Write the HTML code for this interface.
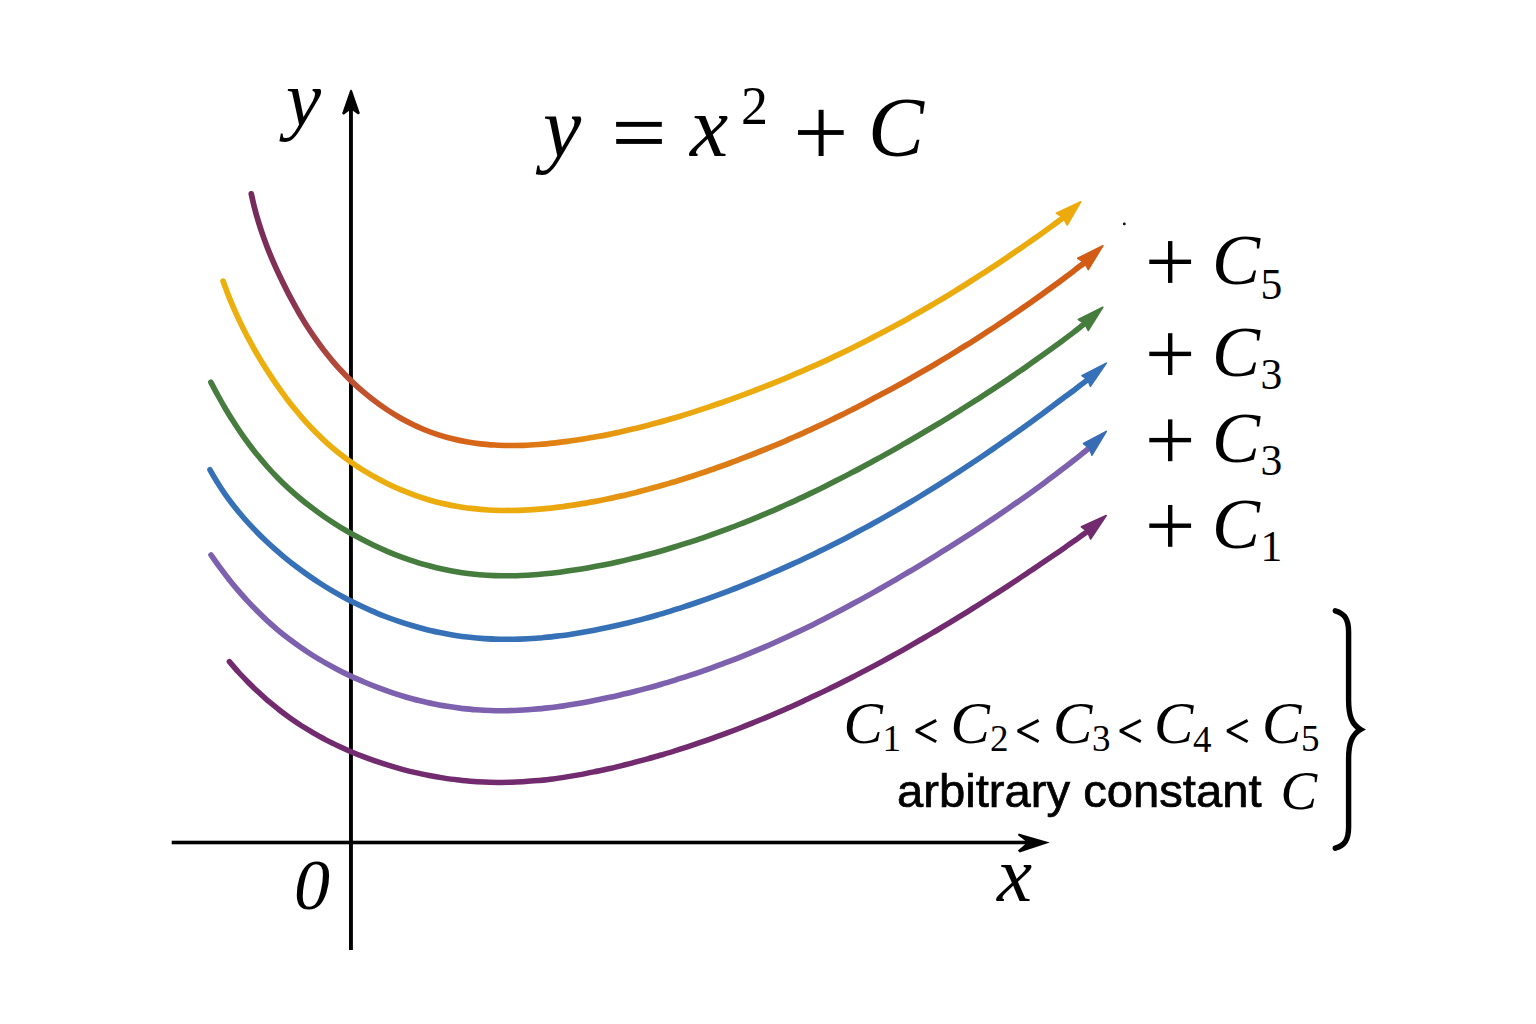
<!DOCTYPE html>
<html>
<head>
<meta charset="utf-8">
<title>y = x^2 + C</title>
<style>
html,body{margin:0;padding:0;background:#fff;}
body{width:1536px;height:1024px;overflow:hidden;font-family:"Liberation Sans",sans-serif;}
svg{display:block;position:absolute;left:0;top:0;}
.sa{font-family:"Liberation Sans",sans-serif;fill:#000;}
.mi{font-family:"Liberation Serif",serif;font-style:italic;fill:#000;}
.mn{font-family:"Liberation Serif",serif;fill:#000;}
</style>
</head>
<body>
<svg width="1536" height="1024" viewBox="0 0 1536 1024">
<desc>Graph of the family y = x² + C: six coloured parabolic curves with arrowheads labelled + C5, + C3, + C3, + C1; axes x and y with origin 0; note C1 &lt; C2 &lt; C3 &lt; C4 &lt; C5, arbitrary constant C.</desc>
<defs>
<linearGradient id="g5" gradientUnits="userSpaceOnUse" x1="251" y1="0" x2="1081" y2="0">
<stop offset="0" stop-color="#742a5c"/>
<stop offset="0.05" stop-color="#893452"/>
<stop offset="0.09" stop-color="#ab463e"/>
<stop offset="0.13" stop-color="#c0522e"/>
<stop offset="0.20" stop-color="#cf5c1e"/>
<stop offset="0.30" stop-color="#d96a16"/>
<stop offset="0.38" stop-color="#e28612"/>
<stop offset="0.46" stop-color="#e89e10"/>
<stop offset="0.55" stop-color="#ebaa0e"/>
<stop offset="1" stop-color="#ecab0c"/>
</linearGradient>
<linearGradient id="g4" gradientUnits="userSpaceOnUse" x1="223" y1="0" x2="1104" y2="0">
<stop offset="0" stop-color="#ecb00e"/>
<stop offset="0.36" stop-color="#ebaa0e"/>
<stop offset="0.45" stop-color="#e59412"/>
<stop offset="0.58" stop-color="#dc7a16"/>
<stop offset="0.75" stop-color="#d46418"/>
<stop offset="1" stop-color="#d25c16"/>
</linearGradient>
</defs>
<rect width="1536" height="1024" fill="#fff"/>

<!-- axes -->
<g id="axes" fill="#000" stroke="none">
<rect x="349" y="108" width="3.9" height="842"/>
<path d="M351.05 89.8 C351.6 89.8 352 90.4 352.2 91 L359.9 113.3 L358.2 114.5 L352.9 110.7 L349.1 110.7 L343.7 114.7 L342.1 113.5 L349.9 91 C350.1 90.4 350.5 89.8 351.05 89.8 Z"/>
<rect x="171.7" y="840.7" width="854" height="3.6"/>
<path d="M1049.8 842.4 L1019.6 852.5 L1017.9 850.5 L1024.9 844.6 L1024.9 840.5 L1018 835.3 L1018.6 833.6 Z"/>
</g>

<!-- curves -->
<g id="curves">
<path d="M229.4 661.6 C230.9 663.3 235.3 668.6 238.4 672.0 C241.5 675.4 244.7 678.7 247.9 682.0 C251.1 685.2 254.4 688.4 257.8 691.6 C261.1 694.7 264.5 697.8 268.0 700.8 C271.5 703.7 275.1 706.7 278.7 709.5 C282.3 712.3 286.0 715.1 289.7 717.7 C293.5 720.4 297.3 723.0 301.1 725.5 C305.0 727.9 308.9 730.3 312.9 732.7 C316.8 735.0 320.9 737.2 324.9 739.4 C329.0 741.5 333.1 743.6 337.3 745.5 C341.5 747.5 345.7 749.4 349.9 751.2 C354.1 753.0 358.4 754.8 362.7 756.4 C367.0 758.1 371.4 759.7 375.7 761.2 C380.1 762.7 384.5 764.1 388.9 765.4 C393.4 766.8 397.8 768.1 402.3 769.3 C406.7 770.5 411.2 771.6 415.7 772.6 C420.2 773.7 424.7 774.6 429.2 775.5 C433.8 776.4 438.3 777.2 442.8 777.9 C447.4 778.6 452.0 779.3 456.5 779.8 C461.1 780.4 465.7 780.8 470.3 781.2 C474.9 781.6 479.4 781.9 484.0 782.1 C488.6 782.3 493.2 782.4 497.8 782.5 C502.4 782.5 507.0 782.4 511.6 782.3 C516.2 782.1 520.8 781.9 525.4 781.6 C530.0 781.3 534.5 780.9 539.1 780.5 C543.7 780.0 548.3 779.5 552.9 778.9 C557.4 778.3 562.0 777.6 566.6 776.9 C571.1 776.2 575.7 775.4 580.2 774.6 C584.8 773.7 589.3 772.9 593.8 771.9 C598.4 771.0 602.9 770.0 607.4 769.0 C611.9 768.0 616.4 766.9 620.9 765.8 C625.4 764.7 629.9 763.6 634.3 762.4 C638.8 761.2 643.3 760.0 647.7 758.8 C652.2 757.6 656.6 756.3 661.0 755.0 C665.4 753.7 669.9 752.4 674.3 751.0 C678.7 749.6 683.0 748.2 687.4 746.8 C691.8 745.4 696.2 743.9 700.5 742.4 C704.9 740.9 709.2 739.4 713.6 737.8 C717.9 736.3 722.2 734.7 726.5 733.1 C730.9 731.5 735.2 729.9 739.5 728.2 C743.8 726.5 748.0 724.8 752.3 723.1 C756.6 721.4 760.8 719.6 765.1 717.9 C769.3 716.1 773.6 714.3 777.8 712.5 C782.0 710.6 786.2 708.8 790.5 706.9 C794.7 705.0 798.9 703.1 803.0 701.2 C807.2 699.3 811.4 697.3 815.6 695.3 C819.7 693.4 823.9 691.4 828.0 689.4 C832.2 687.3 836.3 685.3 840.4 683.2 C844.5 681.2 848.7 679.1 852.8 677.0 C856.9 674.9 861.0 672.7 865.0 670.6 C869.1 668.4 873.2 666.3 877.3 664.1 C881.3 661.9 885.4 659.7 889.4 657.5 C893.4 655.3 897.5 653.0 901.5 650.8 C905.5 648.5 909.5 646.2 913.5 643.9 C917.5 641.6 921.5 639.3 925.5 637.0 C929.5 634.7 933.4 632.3 937.4 630.0 C941.4 627.6 945.3 625.3 949.3 622.9 C953.2 620.5 957.1 618.1 961.1 615.7 C965.0 613.3 968.9 610.8 972.8 608.4 C976.7 605.9 980.6 603.5 984.5 601.0 C988.4 598.5 992.2 596.1 996.1 593.6 C1000.0 591.1 1003.9 588.6 1007.7 586.1 C1011.6 583.5 1015.4 581.0 1019.2 578.5 C1023.1 575.9 1026.9 573.4 1030.7 570.8 C1034.6 568.2 1038.4 565.7 1042.2 563.1 C1046.0 560.5 1049.8 557.9 1053.6 555.3 C1057.4 552.7 1061.2 550.1 1065.0 547.5 C1068.7 544.8 1072.5 542.2 1076.3 539.6 C1080.0 536.9 1085.6 532.9 1087.5 531.6" fill="none" stroke="#722b6e" stroke-width="5.5" stroke-linecap="round" stroke-linejoin="round"/>
<path d="M1106.2 515.6 L1081.4 526.8 L1087.5 531.6 L1090.6 539.0 Z" fill="#722b6e" stroke="#722b6e" stroke-width="1.6" stroke-linejoin="round"/>
<path d="M211.0 555.0 C212.4 557.0 216.5 562.9 219.3 566.7 C222.2 570.6 225.1 574.4 228.1 578.2 C231.0 582.0 234.1 585.7 237.2 589.4 C240.3 593.0 243.5 596.6 246.7 600.2 C250.0 603.7 253.3 607.2 256.7 610.6 C260.1 614.0 263.6 617.4 267.1 620.6 C270.7 623.9 274.3 627.0 277.9 630.1 C281.6 633.2 285.4 636.2 289.2 639.1 C293.0 642.0 296.9 644.8 300.9 647.5 C304.8 650.3 308.8 652.9 312.9 655.5 C317.0 658.0 321.1 660.5 325.3 662.9 C329.4 665.2 333.7 667.5 337.9 669.7 C342.2 672.0 346.5 674.1 350.9 676.1 C355.3 678.2 359.7 680.1 364.1 682.0 C368.5 683.9 373.0 685.7 377.5 687.4 C382.0 689.1 386.6 690.8 391.2 692.3 C395.7 693.8 400.3 695.3 405.0 696.7 C409.6 698.0 414.2 699.3 418.9 700.5 C423.6 701.6 428.3 702.7 433.0 703.7 C437.7 704.7 442.4 705.5 447.2 706.3 C451.9 707.1 456.7 707.8 461.4 708.4 C466.2 708.9 471.0 709.4 475.8 709.8 C480.6 710.1 485.4 710.4 490.2 710.5 C495.0 710.7 499.8 710.7 504.6 710.7 C509.4 710.6 514.2 710.5 519.0 710.3 C523.8 710.0 528.6 709.7 533.4 709.3 C538.2 708.9 543.0 708.5 547.8 707.9 C552.6 707.4 557.4 706.7 562.2 706.1 C567.0 705.4 571.8 704.6 576.5 703.8 C581.3 703.0 586.1 702.1 590.8 701.2 C595.6 700.3 600.4 699.4 605.1 698.3 C609.8 697.3 614.6 696.3 619.3 695.2 C624.0 694.1 628.7 693.0 633.4 691.8 C638.0 690.6 642.7 689.4 647.4 688.1 C652.0 686.9 656.7 685.6 661.3 684.2 C666.0 682.9 670.6 681.5 675.2 680.1 C679.8 678.7 684.4 677.2 689.0 675.7 C693.6 674.2 698.1 672.7 702.7 671.1 C707.2 669.5 711.8 667.9 716.3 666.2 C720.8 664.6 725.3 662.9 729.8 661.2 C734.3 659.4 738.8 657.7 743.3 655.9 C747.7 654.1 752.2 652.3 756.6 650.4 C761.1 648.5 765.5 646.6 769.9 644.7 C774.3 642.7 778.7 640.8 783.1 638.8 C787.5 636.7 791.8 634.7 796.2 632.6 C800.5 630.6 804.9 628.5 809.2 626.4 C813.5 624.2 817.9 622.1 822.2 619.9 C826.5 617.7 830.8 615.5 835.0 613.3 C839.3 611.1 843.6 608.8 847.8 606.5 C852.1 604.2 856.3 601.9 860.6 599.6 C864.8 597.3 869.0 594.9 873.2 592.6 C877.4 590.2 881.6 587.8 885.8 585.4 C890.0 583.0 894.2 580.6 898.3 578.1 C902.5 575.7 906.6 573.2 910.8 570.8 C914.9 568.3 919.1 565.8 923.2 563.3 C927.3 560.8 931.4 558.3 935.5 555.8 C939.6 553.2 943.7 550.7 947.8 548.1 C951.9 545.6 956.0 543.0 960.0 540.4 C964.1 537.8 968.2 535.2 972.2 532.6 C976.2 530.0 980.3 527.3 984.3 524.7 C988.3 522.0 992.3 519.3 996.3 516.6 C1000.3 513.9 1004.3 511.2 1008.2 508.5 C1012.2 505.8 1016.1 503.0 1020.1 500.2 C1024.0 497.5 1027.9 494.7 1031.8 491.9 C1035.7 489.1 1039.6 486.2 1043.5 483.4 C1047.4 480.5 1051.2 477.6 1055.1 474.7 C1058.9 471.8 1062.8 468.9 1066.6 466.0 C1070.4 463.0 1074.2 460.1 1078.0 457.1 C1081.7 454.1 1087.3 449.5 1089.2 448.0" fill="none" stroke="#7d61ae" stroke-width="5.6" stroke-linecap="round" stroke-linejoin="round"/>
<path d="M1106.3 431.4 L1083.5 443.5 L1089.2 448.0 L1092.0 455.2 Z" fill="#386db6" stroke="#386db6" stroke-width="1.6" stroke-linejoin="round"/>
<path d="M210.0 469.8 C211.2 471.9 214.8 478.3 217.4 482.4 C219.9 486.6 222.6 490.6 225.4 494.6 C228.2 498.6 231.1 502.4 234.1 506.3 C237.1 510.1 240.2 513.8 243.4 517.5 C246.5 521.1 249.8 524.7 253.1 528.2 C256.5 531.7 259.9 535.2 263.4 538.5 C266.9 541.9 270.4 545.2 274.1 548.4 C277.7 551.6 281.4 554.8 285.1 557.8 C288.9 560.9 292.7 563.9 296.5 566.8 C300.4 569.8 304.3 572.6 308.3 575.4 C312.3 578.2 316.3 580.9 320.4 583.5 C324.4 586.1 328.6 588.7 332.8 591.1 C337.0 593.6 341.2 595.9 345.5 598.2 C349.8 600.5 354.1 602.7 358.5 604.8 C362.8 606.9 367.3 609.0 371.7 610.9 C376.2 612.9 380.7 614.7 385.2 616.5 C389.7 618.2 394.3 619.9 398.9 621.4 C403.5 623.0 408.2 624.5 412.8 625.8 C417.5 627.2 422.2 628.5 426.9 629.7 C431.6 630.8 436.3 631.9 441.1 632.8 C445.8 633.8 450.6 634.7 455.4 635.4 C460.2 636.2 465.0 636.8 469.8 637.3 C474.6 637.9 479.4 638.3 484.3 638.6 C489.1 638.9 493.9 639.1 498.8 639.2 C503.6 639.3 508.5 639.3 513.3 639.2 C518.1 639.2 523.0 639.0 527.8 638.7 C532.7 638.4 537.5 638.1 542.4 637.7 C547.2 637.2 552.1 636.7 556.9 636.1 C561.7 635.6 566.6 634.9 571.4 634.2 C576.2 633.5 581.0 632.7 585.8 631.8 C590.6 631.0 595.4 630.1 600.1 629.1 C604.9 628.2 609.7 627.2 614.4 626.1 C619.2 625.0 623.9 623.9 628.6 622.8 C633.3 621.6 638.0 620.4 642.7 619.1 C647.4 617.9 652.0 616.6 656.7 615.2 C661.4 613.9 666.0 612.5 670.6 611.1 C675.3 609.7 679.9 608.2 684.5 606.7 C689.1 605.2 693.7 603.6 698.3 602.0 C702.9 600.4 707.4 598.8 712.0 597.1 C716.5 595.5 721.1 593.8 725.6 592.1 C730.2 590.3 734.7 588.6 739.2 586.8 C743.7 585.0 748.2 583.2 752.7 581.3 C757.2 579.5 761.7 577.6 766.1 575.7 C770.6 573.8 775.0 571.8 779.5 569.9 C783.9 567.9 788.4 565.9 792.8 563.9 C797.2 561.9 801.6 559.8 806.0 557.7 C810.4 555.7 814.8 553.6 819.1 551.4 C823.5 549.3 827.9 547.2 832.2 545.0 C836.5 542.8 840.9 540.6 845.2 538.4 C849.5 536.1 853.8 533.9 858.1 531.6 C862.4 529.3 866.6 527.0 870.9 524.7 C875.2 522.3 879.4 520.0 883.6 517.6 C887.9 515.2 892.1 512.8 896.3 510.4 C900.5 508.0 904.7 505.5 908.8 503.0 C913.0 500.6 917.2 498.1 921.3 495.5 C925.4 493.0 929.6 490.5 933.7 487.9 C937.8 485.4 941.9 482.8 945.9 480.2 C950.0 477.6 954.1 475.0 958.1 472.3 C962.2 469.7 966.2 467.0 970.2 464.3 C974.3 461.7 978.3 459.0 982.3 456.3 C986.3 453.5 990.3 450.8 994.2 448.1 C998.2 445.3 1002.2 442.6 1006.1 439.8 C1010.1 437.0 1014.0 434.2 1017.9 431.4 C1021.9 428.6 1025.8 425.8 1029.7 422.9 C1033.6 420.1 1037.5 417.3 1041.4 414.4 C1045.3 411.6 1049.2 408.7 1053.0 405.8 C1056.9 402.9 1060.8 400.0 1064.6 397.1 C1068.5 394.2 1072.4 391.3 1076.2 388.4 C1080.0 385.5 1085.8 381.1 1087.7 379.6" fill="none" stroke="#3671b8" stroke-width="5.6" stroke-linecap="round" stroke-linejoin="round"/>
<path d="M1106.3 363.1 L1081.9 375.6 L1087.7 379.6 L1090.4 386.3 Z" fill="#3671b8" stroke="#3671b8" stroke-width="1.6" stroke-linejoin="round"/>
<path d="M210.9 382.2 C212.0 384.3 215.3 390.7 217.7 395.0 C220.0 399.2 222.4 403.5 224.9 407.7 C227.4 411.9 229.9 416.1 232.6 420.3 C235.2 424.4 237.9 428.6 240.7 432.6 C243.5 436.7 246.4 440.7 249.4 444.7 C252.3 448.6 255.3 452.5 258.5 456.3 C261.6 460.2 264.8 463.9 268.0 467.5 C271.3 471.2 274.7 474.8 278.1 478.2 C281.5 481.7 285.0 485.1 288.6 488.4 C292.2 491.7 295.9 494.9 299.6 498.0 C303.3 501.1 307.1 504.2 311.0 507.1 C314.9 510.1 318.8 512.9 322.8 515.7 C326.8 518.5 330.9 521.2 335.0 523.8 C339.1 526.5 343.3 529.0 347.6 531.5 C351.8 533.9 356.1 536.3 360.5 538.6 C364.8 540.9 369.2 543.1 373.7 545.3 C378.2 547.4 382.7 549.4 387.2 551.3 C391.8 553.3 396.3 555.1 401.0 556.8 C405.6 558.5 410.3 560.1 414.9 561.6 C419.6 563.2 424.3 564.5 429.1 565.8 C433.8 567.1 438.6 568.3 443.4 569.3 C448.2 570.3 453.0 571.2 457.8 572.0 C462.6 572.8 467.4 573.4 472.3 574.0 C477.1 574.5 481.9 574.9 486.8 575.2 C491.6 575.5 496.5 575.7 501.4 575.7 C506.2 575.8 511.1 575.8 516.0 575.7 C520.8 575.5 525.7 575.3 530.6 575.0 C535.4 574.7 540.3 574.3 545.2 573.8 C550.0 573.4 554.9 572.8 559.8 572.2 C564.6 571.6 569.5 570.9 574.3 570.1 C579.2 569.4 584.0 568.6 588.8 567.7 C593.6 566.8 598.5 565.9 603.3 565.0 C608.1 564.0 612.8 563.0 617.6 561.9 C622.4 560.9 627.2 559.8 631.9 558.6 C636.7 557.5 641.4 556.3 646.1 555.0 C650.9 553.8 655.6 552.5 660.3 551.2 C665.0 549.8 669.7 548.5 674.3 547.0 C679.0 545.6 683.7 544.2 688.3 542.7 C693.0 541.2 697.6 539.6 702.2 538.1 C706.9 536.5 711.5 534.9 716.1 533.2 C720.7 531.5 725.3 529.8 729.8 528.1 C734.4 526.4 738.9 524.6 743.5 522.8 C748.0 521.0 752.6 519.2 757.1 517.3 C761.6 515.4 766.1 513.5 770.6 511.6 C775.1 509.7 779.5 507.7 784.0 505.7 C788.4 503.7 792.9 501.7 797.3 499.6 C801.8 497.6 806.2 495.5 810.6 493.4 C815.0 491.2 819.4 489.1 823.8 486.9 C828.2 484.8 832.5 482.6 836.9 480.3 C841.3 478.1 845.6 475.9 849.9 473.6 C854.3 471.3 858.6 469.1 862.9 466.7 C867.2 464.4 871.5 462.1 875.8 459.7 C880.1 457.4 884.4 455.0 888.7 452.6 C893.0 450.2 897.2 447.8 901.5 445.3 C905.7 442.9 910.0 440.5 914.2 438.0 C918.4 435.5 922.7 433.0 926.9 430.5 C931.1 428.0 935.3 425.5 939.5 423.0 C943.7 420.4 947.9 417.9 952.0 415.3 C956.2 412.7 960.4 410.2 964.5 407.5 C968.7 404.9 972.8 402.3 976.9 399.7 C981.1 397.0 985.2 394.4 989.3 391.7 C993.4 389.0 997.5 386.3 1001.5 383.6 C1005.6 380.9 1009.7 378.2 1013.7 375.4 C1017.7 372.6 1021.8 369.9 1025.8 367.1 C1029.8 364.3 1033.8 361.5 1037.8 358.6 C1041.8 355.8 1045.7 353.0 1049.7 350.1 C1053.6 347.2 1057.6 344.3 1061.5 341.4 C1065.4 338.5 1069.3 335.6 1073.2 332.6 C1077.1 329.6 1082.8 325.1 1084.8 323.6" fill="none" stroke="#467c3e" stroke-width="5.6" stroke-linecap="round" stroke-linejoin="round"/>
<path d="M1102.8 307.3 L1078.3 319.5 L1084.8 323.6 L1088.2 330.5 Z" fill="#467c3e" stroke="#467c3e" stroke-width="1.6" stroke-linejoin="round"/>
<path d="M223.1 281.1 C224.0 283.4 226.5 290.5 228.3 295.1 C230.1 299.7 232.0 304.3 234.0 308.9 C236.0 313.4 238.1 317.9 240.2 322.4 C242.3 326.8 244.6 331.3 246.9 335.7 C249.2 340.0 251.5 344.4 254.0 348.7 C256.4 353.0 258.9 357.3 261.5 361.5 C264.1 365.7 266.7 369.9 269.5 374.1 C272.2 378.2 274.9 382.3 277.8 386.4 C280.6 390.4 283.5 394.4 286.5 398.4 C289.5 402.3 292.5 406.2 295.7 410.0 C298.8 413.8 302.0 417.6 305.3 421.3 C308.6 424.9 312.0 428.5 315.5 432.0 C319.0 435.5 322.5 439.0 326.2 442.3 C329.9 445.6 333.6 448.8 337.5 452.0 C341.4 455.1 345.3 458.1 349.4 461.0 C353.5 463.9 357.6 466.7 361.8 469.4 C366.1 472.0 370.4 474.6 374.8 477.0 C379.2 479.5 383.6 481.8 388.1 484.0 C392.6 486.2 397.2 488.3 401.8 490.2 C406.5 492.1 411.2 493.9 415.9 495.6 C420.6 497.3 425.3 498.8 430.1 500.2 C434.9 501.5 439.8 502.8 444.6 503.9 C449.4 505.0 454.3 505.9 459.2 506.7 C464.1 507.5 469.0 508.2 473.9 508.7 C478.8 509.3 483.7 509.7 488.6 510.0 C493.6 510.2 498.5 510.4 503.5 510.5 C508.4 510.5 513.4 510.5 518.3 510.3 C523.3 510.2 528.2 509.9 533.2 509.6 C538.2 509.3 543.1 508.8 548.1 508.3 C553.0 507.8 558.0 507.2 562.9 506.6 C567.9 505.9 572.8 505.2 577.7 504.4 C582.7 503.6 587.6 502.8 592.5 501.9 C597.4 501.0 602.3 500.0 607.1 499.0 C612.0 498.0 616.9 497.0 621.7 495.9 C626.6 494.8 631.4 493.6 636.2 492.4 C641.1 491.2 645.9 489.9 650.7 488.6 C655.5 487.3 660.3 486.0 665.1 484.6 C669.8 483.2 674.6 481.8 679.4 480.3 C684.1 478.8 688.9 477.3 693.6 475.8 C698.3 474.2 703.0 472.6 707.7 471.0 C712.4 469.4 717.1 467.7 721.8 466.0 C726.5 464.4 731.1 462.6 735.8 460.9 C740.4 459.1 745.1 457.3 749.7 455.5 C754.3 453.7 758.9 451.9 763.5 450.0 C768.1 448.1 772.7 446.2 777.3 444.3 C781.9 442.4 786.4 440.4 791.0 438.4 C795.5 436.4 800.1 434.4 804.6 432.3 C809.1 430.3 813.6 428.2 818.1 426.1 C822.6 424.0 827.1 421.9 831.6 419.7 C836.1 417.6 840.5 415.4 845.0 413.2 C849.4 411.0 853.9 408.8 858.3 406.5 C862.7 404.2 867.1 402.0 871.5 399.6 C875.9 397.3 880.3 395.0 884.7 392.6 C889.1 390.3 893.5 387.9 897.8 385.5 C902.2 383.1 906.5 380.7 910.8 378.2 C915.2 375.8 919.5 373.3 923.8 370.8 C928.1 368.3 932.4 365.8 936.7 363.2 C941.0 360.7 945.2 358.1 949.5 355.6 C953.7 353.0 958.0 350.4 962.2 347.7 C966.4 345.1 970.7 342.5 974.9 339.8 C979.1 337.1 983.3 334.4 987.4 331.7 C991.6 329.0 995.8 326.3 999.9 323.5 C1004.0 320.7 1008.2 318.0 1012.3 315.2 C1016.4 312.4 1020.5 309.6 1024.6 306.7 C1028.7 303.9 1032.7 301.0 1036.8 298.1 C1040.8 295.3 1044.9 292.4 1048.9 289.4 C1052.9 286.5 1056.9 283.6 1060.9 280.6 C1064.8 277.7 1068.8 274.7 1072.8 271.7 C1076.7 268.7 1082.5 264.1 1084.5 262.6" fill="none" stroke="url(#g4)" stroke-width="5.7" stroke-linecap="round" stroke-linejoin="round"/>
<path d="M1102.8 245.8 L1077.7 258.3 L1084.5 262.6 L1088.3 269.6 Z" fill="#d25c16" stroke="#d25c16" stroke-width="1.6" stroke-linejoin="round"/>
<path d="M251.3 193.8 C251.8 196.1 253.3 203.2 254.5 207.8 C255.7 212.5 257.0 217.1 258.4 221.7 C259.8 226.3 261.3 230.9 262.9 235.4 C264.5 240.0 266.2 244.5 267.9 249.0 C269.7 253.5 271.6 258.0 273.5 262.4 C275.4 266.8 277.4 271.2 279.5 275.6 C281.6 280.0 283.7 284.3 285.9 288.6 C288.0 292.9 290.3 297.2 292.6 301.4 C294.9 305.6 297.2 309.8 299.6 314.0 C302.1 318.1 304.5 322.2 307.1 326.3 C309.7 330.3 312.3 334.3 315.1 338.2 C317.8 342.2 320.6 346.0 323.5 349.8 C326.5 353.6 329.5 357.4 332.6 361.1 C335.7 364.7 338.9 368.3 342.2 371.8 C345.5 375.4 349.0 378.8 352.5 382.1 C356.0 385.5 359.7 388.8 363.4 391.9 C367.1 395.1 370.9 398.1 374.8 401.0 C378.7 404.0 382.7 406.8 386.7 409.5 C390.8 412.2 394.9 414.8 399.1 417.2 C403.3 419.6 407.6 421.9 411.9 424.0 C416.3 426.2 420.7 428.1 425.1 430.0 C429.5 431.8 434.0 433.4 438.6 434.9 C443.1 436.4 447.7 437.7 452.4 438.8 C457.0 440.0 461.7 441.0 466.4 441.8 C471.1 442.6 475.8 443.3 480.6 443.8 C485.3 444.4 490.1 444.7 494.9 445.0 C499.7 445.3 504.5 445.4 509.4 445.5 C514.2 445.5 519.0 445.4 523.9 445.3 C528.7 445.1 533.6 444.8 538.4 444.5 C543.3 444.1 548.1 443.7 553.0 443.1 C557.8 442.6 562.6 442.0 567.4 441.4 C572.2 440.8 577.0 440.0 581.8 439.3 C586.6 438.5 591.4 437.7 596.1 436.8 C600.9 436.0 605.6 435.1 610.3 434.1 C615.0 433.1 619.8 432.1 624.4 431.0 C629.1 430.0 633.8 428.8 638.5 427.7 C643.2 426.5 647.8 425.3 652.5 424.1 C657.1 422.8 661.7 421.6 666.3 420.2 C671.0 418.9 675.6 417.5 680.2 416.2 C684.8 414.8 689.4 413.3 693.9 411.9 C698.5 410.4 703.1 408.9 707.7 407.4 C712.2 405.8 716.8 404.3 721.3 402.7 C725.9 401.1 730.4 399.5 734.9 397.8 C739.4 396.2 744.0 394.5 748.5 392.8 C753.0 391.1 757.5 389.4 762.0 387.7 C766.5 385.9 770.9 384.1 775.4 382.3 C779.9 380.5 784.3 378.7 788.8 376.8 C793.2 374.9 797.7 373.0 802.1 371.1 C806.5 369.2 810.9 367.2 815.3 365.3 C819.7 363.3 824.1 361.3 828.5 359.3 C832.9 357.2 837.2 355.2 841.6 353.1 C845.9 351.0 850.3 348.9 854.6 346.8 C858.9 344.6 863.2 342.5 867.5 340.3 C871.8 338.1 876.1 335.9 880.4 333.6 C884.7 331.4 888.9 329.1 893.2 326.8 C897.4 324.5 901.6 322.2 905.8 319.9 C910.0 317.5 914.2 315.2 918.4 312.8 C922.6 310.4 926.8 308.0 930.9 305.5 C935.1 303.1 939.2 300.6 943.4 298.2 C947.5 295.7 951.6 293.2 955.7 290.6 C959.8 288.1 963.9 285.6 967.9 283.0 C972.0 280.4 976.1 277.8 980.1 275.2 C984.2 272.6 988.2 270.0 992.2 267.3 C996.2 264.7 1000.3 262.0 1004.3 259.3 C1008.2 256.6 1012.2 253.9 1016.2 251.2 C1020.2 248.5 1024.1 245.7 1028.1 243.0 C1032.0 240.2 1036.0 237.5 1039.9 234.7 C1043.8 231.9 1047.7 229.1 1051.6 226.3 C1055.5 223.4 1061.3 219.1 1063.2 217.7" fill="none" stroke="url(#g5)" stroke-width="5.7" stroke-linecap="round" stroke-linejoin="round"/>
<path d="M1080.7 201.8 L1056.3 213.2 L1063.2 217.7 L1067.2 225.0 Z" fill="#ecaa0c" stroke="#ecaa0c" stroke-width="1.6" stroke-linejoin="round"/>
</g>

<!-- title -->
<g id="title">
<rect x="616.1" y="121.9" width="45.7" height="4.9"/>
<rect x="616.2" y="139" width="45.7" height="4.9"/>
<rect x="798" y="130.1" width="45.7" height="4.8"/>
<rect x="818.6" y="109.8" width="5" height="46.2"/>
<text class="mi" x="543" y="156" font-size="86">y</text>
<text class="mi" x="690" y="156" font-size="86">x</text>
<text class="mn" x="741" y="123.5" font-size="54">2</text>
<text class="mi" x="868" y="155.5" font-size="84">C</text>
</g>

<!-- axis labels -->
<text class="mi" x="286" y="125" font-size="79">y</text>
<text class="mi" x="294" y="909" font-size="72">0</text>
<text class="mi" x="997" y="901" font-size="79">x</text>

<!-- right labels -->
<g id="labels">
<g transform="translate(0,0)">
<rect x="1149.3" y="259.6" width="41.8" height="4.4"/><rect x="1168" y="241.1" width="4.4" height="41.8"/>
<text class="mi" x="1212" y="284" font-size="72">C</text>
<text class="mn" x="1260.5" y="298.7" font-size="43.6">5</text>
</g>
<g transform="translate(0,92.1)">
<rect x="1149.3" y="259.6" width="41.8" height="4.4"/><rect x="1168" y="241.1" width="4.4" height="41.8"/>
<text class="mi" x="1212" y="283.5" font-size="72">C</text>
<text class="mn" x="1260.5" y="297.4" font-size="43.6">3</text>
</g>
<g transform="translate(0,178.3)">
<rect x="1149.3" y="259.6" width="41.8" height="4.4"/><rect x="1168" y="241.1" width="4.4" height="41.8"/>
<text class="mi" x="1212" y="283.8" font-size="72">C</text>
<text class="mn" x="1260.5" y="296.6" font-size="43.6">3</text>
</g>
<g transform="translate(0,263.9)">
<rect x="1149.3" y="259.6" width="41.8" height="4.4"/><rect x="1168" y="241.1" width="4.4" height="41.8"/>
<text class="mi" x="1212" y="283.9" font-size="72">C</text>
<text class="mn" x="1260.5" y="296.8" font-size="43.6">1</text>
</g>
</g>
<circle cx="1124.3" cy="223.9" r="1.45" fill="#111"/>

<!-- inequality -->
<g id="ineq">
<text class="mi" x="843.5" y="742.5" font-size="59">C</text>
<text class="mn" x="882.5" y="751.2" font-size="37">1</text>
<path d="M936.2 720.3 L916.2 730.9 L936.2 741.7" fill="none" stroke="#000" stroke-width="3" stroke-linejoin="bevel"/>
<text class="mi" x="950.5" y="742.5" font-size="59">C</text>
<text class="mn" x="990" y="751" font-size="37">2</text>
<path d="M1038.6 720.3 L1018 730.9 L1038.6 741.7" fill="none" stroke="#000" stroke-width="3" stroke-linejoin="bevel"/>
<text class="mi" x="1053" y="742.5" font-size="59">C</text>
<text class="mn" x="1092" y="751.3" font-size="37">3</text>
<path d="M1140.8 720.3 L1120.2 730.9 L1140.8 741.7" fill="none" stroke="#000" stroke-width="3" stroke-linejoin="bevel"/>
<text class="mi" x="1154" y="742.5" font-size="59">C</text>
<text class="mn" x="1193" y="751.6" font-size="37">4</text>
<path d="M1247.6 720.3 L1227.4 730.9 L1247.6 741.7" fill="none" stroke="#000" stroke-width="3" stroke-linejoin="bevel"/>
<text class="mi" x="1262" y="742.5" font-size="59">C</text>
<text class="mn" x="1301" y="751.3" font-size="37">5</text>
</g>

<!-- arbitrary constant -->
<g id="sans" style="filter:grayscale(1)" stroke="#000" stroke-width="0.7">
<text class="sa" x="897" y="807.4" font-size="45.6" textLength="364.5" lengthAdjust="spacingAndGlyphs">arbitrary constant</text>
</g>
<text class="mi" x="1280.5" y="808.9" font-size="55">C</text>

<!-- brace -->
<path d="M1335.3 610.8 C1344.5 613.5 1348.6 619 1348.6 632 L1348.6 700 C1348.6 716 1352 724.5 1360.6 729.5 C1352 734.5 1348.6 743 1348.6 759 L1348.6 827 C1348.6 840 1344.5 845.5 1335.3 848.2" fill="none" stroke="#000" stroke-width="5.4" stroke-linecap="round" stroke-linejoin="miter" stroke-miterlimit="10"/>
</svg>
</body>
</html>
